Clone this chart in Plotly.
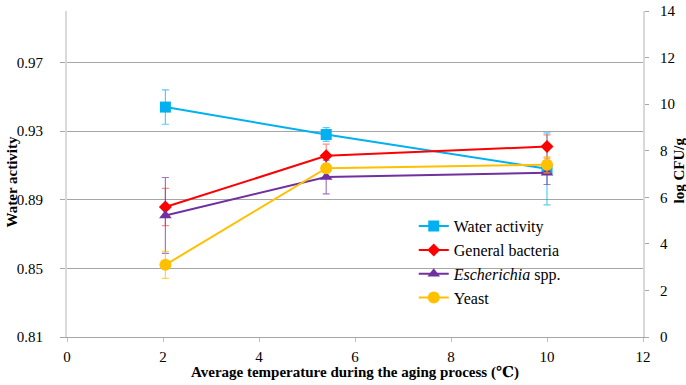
import plotly.graph_objects as go

# Average aging temperature (°C)
temperature = [2.05, 5.4, 10.0]

# Water activity (left axis)
water_activity = [0.944, 0.928, 0.908]
water_activity_err = [0.010, 0.004, 0.021]

# Microbial counts, log CFU/g (right axis)
general_bacteria = [5.58, 7.78, 8.18]
general_bacteria_err = [0.80, 0.50, 0.50]
escherichia = [5.22, 6.87, 7.05]
escherichia_err = [1.63, 0.72, 0.50]
yeast = [3.10, 7.25, 7.40]
yeast_err = [0.58, 0.20, 0.35]

FONT = "Liberation Serif, Times New Roman, DejaVu Serif, serif"

series = [
    ("Water activity", water_activity, water_activity_err, "y",
     "#00B0F0", "rgba(0,176,240,0.65)", "square", 11),
    ("General bacteria", general_bacteria, general_bacteria_err, "y2",
     "#FF0000", "rgba(255,0,0,0.45)", "diamond", 10),
    ("<i>Escherichia</i> spp.", escherichia, escherichia_err, "y2",
     "#7030A0", "rgba(112,48,160,0.65)", "triangle-up", 11),
    ("Yeast", yeast, yeast_err, "y2",
     "#FFC000", "rgba(255,192,0,0.7)", "circle", 12),
]

fig = go.Figure()
for name, vals, errs, axis, color, ecolor, symbol, size in series:
    fig.add_trace(go.Scatter(
        x=temperature, y=vals, name=name, yaxis=axis,
        mode="lines+markers",
        line=dict(color=color, width=2),
        marker=dict(color=color, symbol=symbol, size=size, line=dict(width=0)),
        error_y=dict(type="data", array=errs, visible=True,
                     color=ecolor, thickness=1.2, width=3.5),
    ))

# Axis titles placed as paper-anchored text
title_font = dict(family=FONT, size=15, color="#000000")
fig.add_annotation(text="<b>Average temperature during the aging process (℃)</b>",
                   xref="paper", yref="paper", x=0.5, y=-0.11,
                   xanchor="center", yanchor="middle", showarrow=False,
                   font=title_font)
fig.add_annotation(text="<b>Water activity</b>",
                   xref="paper", yref="paper", x=-0.095, y=0.475,
                   xanchor="center", yanchor="middle", showarrow=False,
                   textangle=-90, font=title_font)
fig.add_annotation(text="<b>log CFU/g</b>",
                   xref="paper", yref="paper", x=1.062, y=0.51,
                   xanchor="center", yanchor="middle", showarrow=False,
                   textangle=-90, font=title_font)

fig.update_layout(
    width=686, height=385,
    margin=dict(l=67, r=43, t=11, b=48, autoexpand=False),
    paper_bgcolor="white", plot_bgcolor="white",
    font=dict(family=FONT, size=15, color="#000000"),
    showlegend=True,
    legend=dict(
        x=0.602, y=0.392, xanchor="left", yanchor="top",
        bgcolor="rgba(255,255,255,0)",
        font=dict(family=FONT, size=16, color="#000000"),
        tracegroupgap=0, itemwidth=30,
    ),
    xaxis=dict(
        range=[0, 12], dtick=2, tick0=0, automargin=False,
        showgrid=False, zeroline=False,
        showline=True, linecolor="#A6A6A6", linewidth=1.2,
        ticks="outside", ticklen=4, tickcolor="#BFBFBF",
        tickfont=dict(family=FONT, size=15), ticklabelstandoff=2,
    ),
    yaxis=dict(
        range=[0.81, 1.0], dtick=0.04, tick0=0.81, automargin=False,
        tickformat=".2f",
        showgrid=True, gridcolor="#A6A6A6", gridwidth=1.2,
        zeroline=False,
        showline=True, linecolor="#D9D9D9", linewidth=2,
        ticks="outside", ticklen=5, tickcolor="#A6A6A6",
        tickfont=dict(family=FONT, size=15), ticklabelstandoff=14,
    ),
    yaxis2=dict(
        range=[0, 14], dtick=2, tick0=0, automargin=False,
        overlaying="y", side="right",
        showgrid=False, zeroline=False,
        showline=True, linecolor="#D9D9D9", linewidth=2,
        ticks="outside", ticklen=4, tickcolor="#A6A6A6",
        tickfont=dict(family=FONT, size=15), ticklabelstandoff=8,
    ),
)

fig.write_html("out.html")
